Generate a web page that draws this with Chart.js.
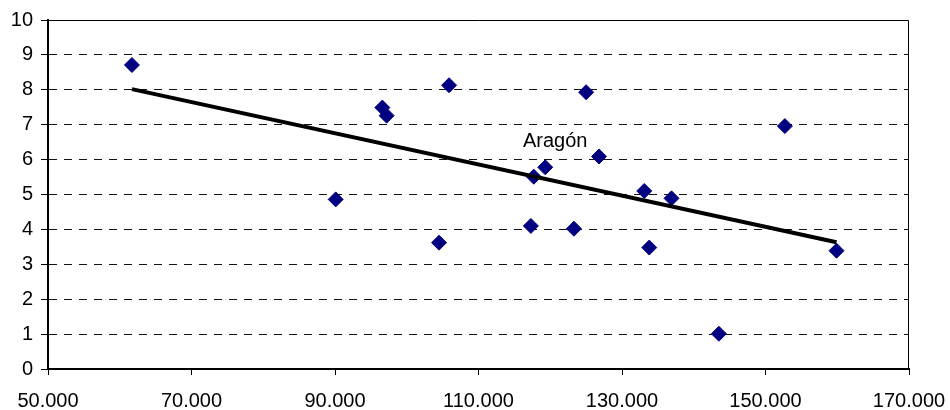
<!DOCTYPE html>
<html>
<head>
<meta charset="utf-8">
<script src="https://cdn.jsdelivr.net/npm/chart.js@4/dist/chart.umd.min.js"></script>
<style>
  body { margin: 0; background: #fff; }
  #wrap { width: 950px; height: 410px; }
</style>
</head>
<body>
<div id="wrap"><canvas id="chart" width="950" height="410"></canvas></div>
<script>
// valores
const renta   = [61700, 90100, 96600, 97200, 104500, 105900, 117300, 117700, 119300,
                 123300, 125000, 126800, 133100, 133800, 136900, 143500, 152700, 159900];
const indice  = [8.71, 4.86, 7.49, 7.26, 3.62, 8.13, 4.10, 5.51, 5.78,
                 4.02, 7.93, 6.09, 5.10, 3.48, 4.89, 1.01, 6.96, 3.39];
const etiquetas = ['', '', '', '', '', '', '', '', 'Aragón', '', '', '', '', '', '', '', '', ''];

// línea de tendencia (extremos)
const tendX = [61700, 159900];
const tendY = [8.02, 3.63];

const xTicks = [50000, 70000, 90000, 110000, 130000, 150000, 170000];
const yTicks = [0, 1, 2, 3, 4, 5, 6, 7, 8, 9, 10];

const FONT = 'Liberation Sans, Arial, sans-serif';

function miles(v) {
  return String(Math.round(v)).replace(/\B(?=(\d{3})+(?!\d))/g, '.');
}

// marco superior/derecho y etiqueta de dato
const extras = {
  id: 'extras',
  beforeDatasetsDraw(chart) {
    const a = chart.chartArea;
    const ctx = chart.ctx;
    ctx.save();
    ctx.strokeStyle = '#000';
    ctx.lineWidth = 1;
    ctx.beginPath();
    ctx.moveTo(a.left, a.top + 0.5);
    ctx.lineTo(a.right - 0.5, a.top + 0.5);
    ctx.lineTo(a.right - 0.5, a.bottom);
    ctx.stroke();
    ctx.restore();
  },
  afterDatasetsDraw(chart) {
    const ctx = chart.ctx;
    const xs = chart.scales.x, ys = chart.scales.y;
    ctx.save();
    ctx.font = '20px ' + FONT;
    ctx.fillStyle = '#000';
    ctx.textAlign = 'center';
    ctx.textBaseline = 'alphabetic';
    etiquetas.forEach(function(t, i) {
      if (!t) return;
      const px = xs.getPixelForValue(renta[i]);
      const py = ys.getPixelForValue(indice[i]);
      ctx.fillText(t, px + 10, py - 20);
    });
    ctx.restore();
  }
};

new Chart(document.getElementById('chart'), {
  type: 'scatter',
  data: {
    datasets: [
      {
        data: tendX.map(function(x, i) { return { x: x, y: tendY[i] }; }),
        showLine: true,
        borderColor: '#000',
        borderWidth: 4,
        pointRadius: 0,
        fill: false
      },
      {
        data: renta.map(function(x, i) { return { x: x, y: indice[i] }; }),
        pointStyle: 'rectRot',
        pointRadius: 7.5,
        backgroundColor: '#000080',
        borderColor: '#000080',
        borderWidth: 1
      }
    ]
  },
  options: {
    responsive: false,
    animation: false,
    layout: { padding: { top: 20, right: 41, left: 0, bottom: 0 } },
    plugins: { legend: { display: false }, tooltip: { enabled: false } },
    scales: {
      x: {
        type: 'linear',
        min: 50000, max: 170000,
        afterBuildTicks: function(s) { s.ticks = xTicks.map(function(v) { return { value: v }; }); },
        afterFit: function(s) { s.height = 41; s.paddingLeft = 0; s.paddingRight = 0; },
        grid: { drawOnChartArea: false, tickLength: 6, tickColor: '#000', tickWidth: 1 },
        border: { color: '#000', width: 2 },
        ticks: { color: '#000', font: { family: FONT, size: 20 }, padding: 14, maxRotation: 0,
                 autoSkip: false, callback: function(v) { return miles(v); } }
      },
      y: {
        min: 0, max: 10,
        afterBuildTicks: function(s) { s.ticks = yTicks.map(function(v) { return { value: v }; }); },
        afterFit: function(s) { s.width = 48; s.paddingTop = 0; s.paddingBottom = 0; },
        grid: {
          color: function(c) { return (c.tick && (c.tick.value === 0 || c.tick.value === 10)) ? 'rgba(0,0,0,0)' : '#111'; },
          lineWidth: 1,
          tickLength: 7, tickColor: '#000', tickWidth: 1
        },
        border: { color: '#000', width: 2, dash: [8, 7] },
        ticks: { color: '#000', font: { family: FONT, size: 20 }, padding: 8 }
      }
    }
  },
  plugins: [extras]
});
</script>
</body>
</html>
